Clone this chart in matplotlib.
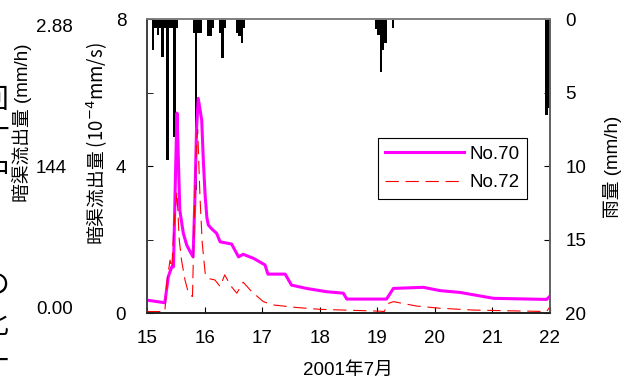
import numpy as np
import matplotlib
matplotlib.use('Agg')
import matplotlib.pyplot as plt
from matplotlib.ticker import MultipleLocator

plt.rcParams['font.family'] = ['Liberation Sans', 'Noto Sans CJK JP']
plt.rcParams['font.size'] = 13.5

# 暗渠流出量 No.70 (10^-4 mm/s)
day70 = [15.00, 15.31, 15.37, 15.43, 15.46, 15.49, 15.52, 15.53, 15.57, 15.63, 15.69, 15.75,
         15.80, 15.83, 15.86, 15.89, 15.95, 15.98, 16.01, 16.04, 16.065, 16.12, 16.21, 16.27,
         16.47, 16.59, 16.67, 16.85, 17.05, 17.10, 17.40, 17.51, 17.77, 18.12, 18.41, 18.47,
         19.16, 19.28, 19.80, 20.09, 20.44, 21.02, 21.94, 22.00]
q70 = [0.35, 0.28, 0.99, 1.26, 1.26, 3.44, 5.45, 5.0, 2.8, 2.18, 1.85, 1.67,
       1.53, 3.0, 5.0, 5.85, 5.26, 4.1, 3.2, 2.6, 2.4, 2.3, 2.17, 1.94,
       1.88, 1.53, 1.6, 1.49, 1.31, 1.06, 1.06, 0.76, 0.67, 0.58, 0.54, 0.38,
       0.38, 0.67, 0.70, 0.61, 0.56, 0.40, 0.37, 0.46]

# 暗渠流出量 No.72
day72 = [15.00, 15.31, 15.35, 15.40, 15.43, 15.47, 15.52, 15.56, 15.60, 15.66, 15.72, 15.75,
         15.79, 15.82, 15.86, 15.88, 15.92, 15.96, 16.01, 16.065, 16.18, 16.27, 16.35, 16.45,
         16.56, 16.67, 16.82, 17.02, 17.19, 17.60, 18.00, 19.05, 19.12, 19.19, 19.28, 19.68,
         20.09, 20.67, 21.94, 22.00]
q72 = [0.04, 0.04, 0.9, 1.44, 1.22, 2.4, 3.3, 2.0, 1.44, 0.9, 0.54, 0.49,
       0.45, 2.5, 4.7, 5.0, 3.17, 1.9, 1.09, 0.94, 0.9, 0.72, 1.04, 0.75,
       0.54, 0.84, 0.58, 0.31, 0.22, 0.15, 0.10, 0.05, 0.04, 0.26, 0.31, 0.19,
       0.13, 0.08, 0.04, 0.17]

# 雨量 (mm/h), hour counted from 7/15 0:00
rain_hour = [2, 3, 4, 5, 6, 7, 8, 9, 10, 11, 12,
             19, 20, 21, 22, 25, 26, 27, 30, 31, 32, 37, 38, 39, 40,
             95, 96, 97, 98, 99, 102, 166, 167]
rain_mm = [2.1, 0.6, 1.06, 0.6, 2.55, 0.6, 9.6, 0.6, 0.6, 8.0, 0.6,
           0.9, 11.6, 0.9, 0.9, 1.1, 1.1, 0.6, 0.9, 2.6, 0.6, 0.9, 1.1, 1.6, 0.6,
           0.65, 1.06, 3.56, 2.08, 1.6, 0.6, 6.5, 6.0]

fig = plt.figure(figsize=(6.26, 3.81), dpi=100)
ax = fig.add_axes([147/626, 1-313/381, 403/626, 293.5/381])
ax2 = ax.twinx()

rain_day = 15 + (np.array(rain_hour) + 0.5) / 24
ax2.bar(rain_day, rain_mm, width=1/24, color='black', linewidth=0)
ax2.set_ylim(20, 0)
ax2.set_yticks([0, 5, 10, 15, 20])
ax2.tick_params(direction='in', length=4, pad=11)

ax.set_zorder(ax2.get_zorder() + 1)
ax.patch.set_visible(False)
ax.plot(day70, q70, color='#ff00ff', lw=2.2, label='No.70')
ax.plot(day72, q72, color='red', lw=0.8, dashes=(12, 6), label='No.72')
ax.set_xlim(15, 22)
ax.set_ylim(0, 8)
ax.set_yticks([0, 4, 8])
ax.yaxis.set_minor_locator(MultipleLocator(2))
ax.set_xticks(range(15, 23))
ax.tick_params(axis='y', which='both', direction='in', length=4, pad=15)
ax.tick_params(axis='x', direction='in', length=4, pad=12)

for a in (ax, ax2):
    a.spines['left'].set_color('#404040')
    a.spines['bottom'].set_color('#202020')
    a.spines['top'].set_color('#808080')
    a.spines['right'].set_color('#606060')
    for s in a.spines.values():
        s.set_linewidth(1.2)

leg = ax.legend(loc='upper right', bbox_to_anchor=(0.943, 0.596), borderaxespad=0,
                fancybox=False, framealpha=1, edgecolor='black', handlelength=4.2,
                handletextpad=0.3, labelspacing=0.6, borderpad=0.4)
leg.get_frame().set_linewidth(0.8)

# labels
fig.text(347.5/626, 1-370/381, '2001年7月', ha='center', va='center')
fig.text(97/626, 1-144/381, '暗渠流出量 (10$^{-4}$mm/s)', rotation=90,
         ha='center', va='center', family='Noto Sans CJK JP')
fig.text(612/626, 1-167/381, '雨量 (mm/h)', rotation=90, ha='center', va='center')

# third scale (mm/h)
fig.text(22/626, 1-123/381, '暗渠流出量 (mm/h)', rotation=90, ha='center', va='center')
for lab, yy in [('2.88', 27), ('144', 169), ('0.00', 309)]:
    fig.text(36/626, 1-yy/381, lab, ha='left', va='center')

# caption cut off at the left edge
for ch, yy in [('回', 101), ('十', 133), ('中', 172), ('｜', 225), ('の', 286), ('比', 326), ('一', 363)]:
    fig.text(-5/626, 1-yy/381, ch, ha='center', va='center', fontsize=20)

fig.savefig('out.png', dpi=100)
